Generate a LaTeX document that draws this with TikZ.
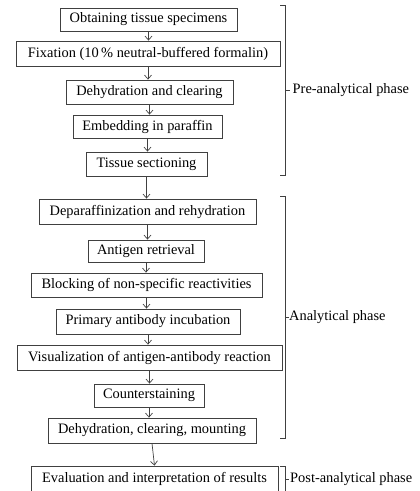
\documentclass[tikz,border=0pt]{standalone}
\usepackage{fontspec}
\setmainfont{Liberation Serif}
\usetikzlibrary{arrows.meta}
\begin{document}
\begin{tikzpicture}[x=1pt,y=-1pt,
  stepbox/.style={draw=black!75, line width=0.8pt, inner sep=0pt, align=center,
    font=\fontsize{14.4}{16}\selectfont},
  arr/.style={draw=black!75, line width=0.7pt, -{Straight Barb[length=4pt,width=7pt]}},
  brk/.style={draw=black!75, line width=0.7pt},
  lbl/.style={anchor=west, inner sep=0pt, font=\fontsize{14.4}{16}\selectfont}]
\useasboundingbox (0,0) rectangle (420,491);
% boxes: center x, center y, width, height
\node[stepbox, minimum width=177pt, minimum height=23pt] (b1) at (148.5,19.5) {Obtaining tissue specimens};
\node[stepbox, minimum width=264pt, minimum height=25pt] (b2) at (148,53.5) {Fixation (10\,\% neutral-buffered formalin)};
\node[stepbox, minimum width=167pt, minimum height=24pt] (b3) at (149.5,92) {Dehydration and clearing};
\node[stepbox, minimum width=149pt, minimum height=23pt] (b4) at (147.5,126.5) {Embedding in paraffin};
\node[stepbox, minimum width=121pt, minimum height=24pt] (b5) at (146.5,164) {Tissue sectioning};
\node[stepbox, minimum width=217pt, minimum height=25pt] (b6) at (147.5,211.5) {Deparaffinization and rehydration};
\node[stepbox, minimum width=116pt, minimum height=22pt] (b7) at (146,251) {Antigen retrieval};
\node[stepbox, minimum width=231pt, minimum height=24pt] (b8) at (146.5,285) {Blocking of non-specific reactivities};
\node[stepbox, minimum width=184pt, minimum height=25pt] (b9) at (148,321.5) {Primary antibody incubation};
\node[stepbox, minimum width=265pt, minimum height=25pt] (b10) at (149.5,357.5) {Visualization of antigen-antibody reaction};
\node[stepbox, minimum width=110pt, minimum height=23pt] (b11) at (149,395.5) {Counterstaining};
\node[stepbox, minimum width=208pt, minimum height=25pt] (b12) at (152,430.5) {Dehydration, clearing, mounting};
\node[stepbox, minimum width=247pt, minimum height=25pt] (b13) at (154.5,478.5) {Evaluation and interpretation of results};
% connectors
\foreach \a/\b in {b1/b2,b2/b3,b3/b4,b4/b5,b5/b6,b6/b7,b7/b8,b8/b9,b9/b10,b10/b11,b11/b12}
  \draw[arr] (\a.south) -- (\a.south |- \b.north);
\draw[arr] (b12.south) -- (b13.north);
% brackets
\coordinate (p1t) at (285,5);   \coordinate (p1b) at (285,175); \coordinate (p1m) at (285,90);
\coordinate (p2t) at (285,196); \coordinate (p2b) at (285,438); \coordinate (p2m) at (285,317);
\coordinate (p3t) at (285,466); \coordinate (p3b) at (285,495); \coordinate (p3m) at (285,479);
\draw[brk] ([xshift=-5pt]p1t) -- (p1t) -- (p1b) -- ([xshift=-5pt]p1b);
\draw[brk] ([xshift=-5pt]p2t) -- (p2t) -- (p2b) -- ([xshift=-5pt]p2b);
\draw[brk] ([xshift=-5pt]p3t) -- (p3t) -- (p3b);
\draw[brk] (p1m) -- ++(5,0);
\draw[brk] (p2m) -- ++(4,0);
\draw[brk] (p3m) -- ++(4,0);
\node[lbl] (l1) at (292.5,90) {Pre-analytical phase};
\node[lbl] (l2) at (289,317) {Analytical phase};
\node[lbl] (l3) at (290,479) {Post-analytical phase};
\end{tikzpicture}
\end{document}
